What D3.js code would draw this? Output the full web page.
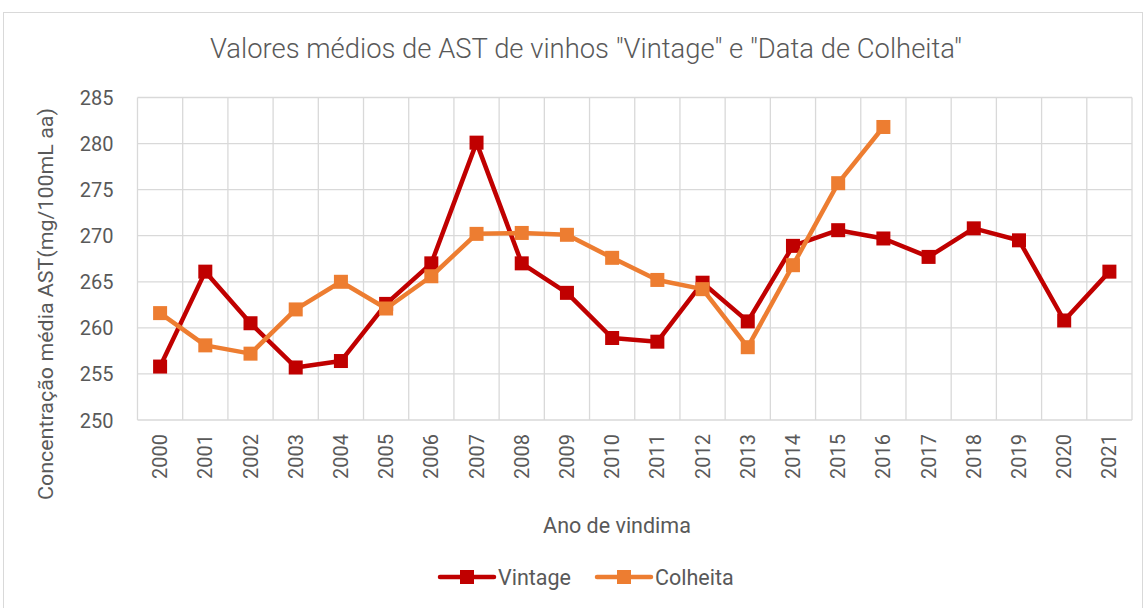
<!DOCTYPE html>
<html><head><meta charset="utf-8">
<script src="https://cdn.jsdelivr.net/npm/d3@7"></script>
<style>html,body{margin:0;padding:0;background:#fff;}svg{display:block;}</style>
</head><body>
<svg id="c" width="1147" height="608"></svg>
<script>
const years = ["2000","2001","2002","2003","2004","2005","2006","2007","2008","2009","2010","2011","2012","2013","2014","2015","2016","2017","2018","2019","2020","2021"];
const vintage = [255.8,266.1,260.5,255.7,256.4,262.6,267.0,280.1,267.0,263.8,258.9,258.5,264.9,260.7,268.9,270.6,269.7,267.7,270.8,269.5,260.8,266.1];
const colheita = [261.6,258.1,257.2,262.0,265.0,262.1,265.6,270.2,270.3,270.1,267.6,265.2,264.2,257.9,266.8,275.7,281.8,null,null,null,null,null];
const yTicks = [250,255,260,265,270,275,280,285];
const seriesNames = ["Vintage","Colheita"];
const colors = ["#C00000","#ED7D31"];

const svg = d3.select("#c");
const font = "Roboto, 'Noto Sans', sans-serif";
const txt = "#595959";
const L = 137.5, R = 1132, T = 97.5, B = 420;

svg.append("rect").attr("x",3.5).attr("y",12.5).attr("width",1139).attr("height",600)
  .attr("fill","#fff").attr("stroke","#d9d9d9").attr("stroke-width",1);

const x = d3.scaleBand().domain(years).range([L,R]);
const y = d3.scaleLinear().domain([250,285]).range([B,T]);

// grid
const g = svg.append("g");
g.selectAll(".hg").data(yTicks).join("line")
  .attr("x1",L).attr("x2",R).attr("y1",d=>y(d)).attr("y2",d=>y(d))
  .attr("stroke","#d9d9d9").attr("stroke-width",1.3);
const bounds = years.map(d=>x(d)).concat([R]);
g.selectAll(".vg").data(bounds).join("line")
  .attr("x1",d=>d).attr("x2",d=>d).attr("y1",T).attr("y2",B)
  .attr("stroke","#d9d9d9").attr("stroke-width",1.3);

// axes labels
const yAxis = d3.axisLeft(y).tickValues(yTicks).tickSize(0).tickPadding(0);
const ya = svg.append("g").attr("transform",`translate(${L-24},0)`).call(yAxis);
ya.select(".domain").remove();
ya.selectAll("text").attr("font-family",font).attr("font-size",20).attr("fill",txt).attr("dy","0.35em");

const xAxis = d3.axisBottom(x).tickSize(0).tickPadding(0);
const xa = svg.append("g").attr("transform",`translate(0,${B})`).call(xAxis);
xa.select(".domain").remove();
xa.selectAll("text").attr("font-family",font).attr("font-size",20).attr("fill",txt)
  .attr("transform","rotate(-90)").attr("text-anchor","end").attr("x",-14).attr("y",0).attr("dy","0.35em");

// series
const line = d3.line().defined(d=>d!=null).x((d,i)=>x(years[i])+x.bandwidth()/2).y(d=>y(d));
[vintage,colheita].forEach((data,si)=>{
  const s = svg.append("g");
  s.append("path").datum(data).attr("d",line).attr("fill","none")
    .attr("stroke",colors[si]).attr("stroke-width",4.5).attr("stroke-linejoin","round").attr("stroke-linecap","round");
  s.selectAll("rect").data(data.map((v,i)=>({v,i})).filter(d=>d.v!=null)).join("rect")
    .attr("x",d=>x(years[d.i])+x.bandwidth()/2-7).attr("y",d=>y(d.v)-7)
    .attr("width",14).attr("height",14).attr("fill",colors[si]);
});

// title
svg.append("text").attr("x",586).attr("y",58).attr("text-anchor","middle")
  .attr("font-family",font).attr("font-weight",300).attr("font-size",27.5).attr("fill",txt)
  .attr("textLength",752).attr("lengthAdjust","spacingAndGlyphs")
  .text('Valores médios de AST de vinhos "Vintage" e "Data de Colheita"');

// axis titles
svg.append("text").attr("x",617).attr("y",533).attr("text-anchor","middle")
  .attr("font-family",font).attr("font-size",21.5).attr("fill",txt).text("Ano de vindima");
svg.append("text").attr("transform","translate(53,304) rotate(-90)").attr("text-anchor","middle")
  .attr("font-family",font).attr("font-size",21).attr("fill",txt)
  .attr("textLength",392).attr("lengthAdjust","spacingAndGlyphs")
  .text("Concentração média AST(mg/100mL aa)");

// legend
const legX = [440, 597];
seriesNames.forEach((n,i)=>{
  const lg = svg.append("g").attr("transform",`translate(${legX[i]},577)`);
  lg.append("line").attr("x1",0).attr("x2",54).attr("stroke",colors[i]).attr("stroke-width",4.5).attr("stroke-linecap","round");
  lg.append("rect").attr("x",20).attr("y",-7).attr("width",14).attr("height",14).attr("fill",colors[i]);
  lg.append("text").attr("x",58).attr("y",0).attr("dy","0.35em").attr("font-family",font).attr("font-size",21.5).attr("fill",txt).text(n);
});
</script>
</body></html>
